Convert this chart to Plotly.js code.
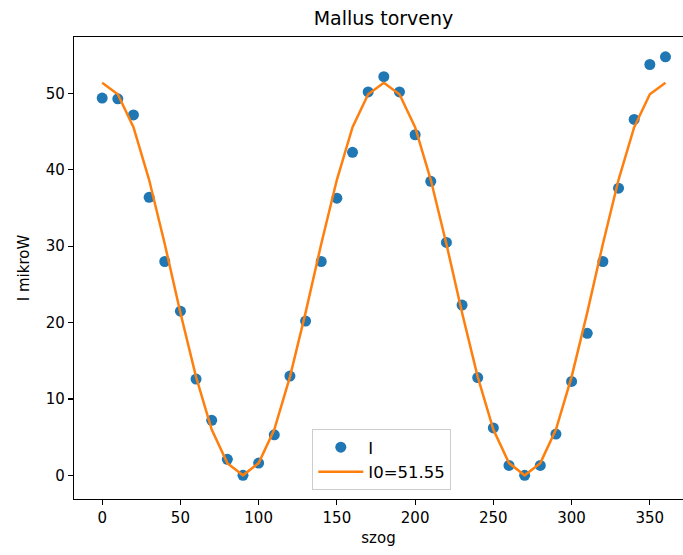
<!DOCTYPE html>
<html>
<head>
<meta charset="utf-8">
<script src="https://cdn.plot.ly/plotly-3.0.1.min.js"></script>
<style>html,body{margin:0;padding:0;background:#fff;}#chart{width:683px;height:555px;}</style>
</head>
<body>
<div id="chart"></div>
<script>
const angles = [0,10,20,30,40,50,60,70,80,90,100,110,120,130,140,150,160,170,180,190,200,210,220,230,240,250,260,270,280,290,300,310,320,330,340,350,360];
const measured = [49.4,49.3,47.2,36.4,28.0,21.5,12.6,7.2,2.1,0.0,1.6,5.3,13.0,20.2,28.0,36.3,42.3,50.2,52.2,50.2,44.6,38.5,30.5,22.3,12.8,6.2,1.3,0.0,1.3,5.4,12.3,18.6,28.0,37.6,46.6,53.8,54.8];
const fitted = [51.4,49.9,45.6,38.7,30.3,21.3,12.9,6.0,1.6,0.0,1.6,6.0,12.9,21.3,30.3,38.7,45.6,49.9,51.4,49.9,45.6,38.7,30.3,21.3,12.9,6.0,1.6,0.0,1.6,6.0,12.9,21.3,30.3,38.7,45.6,49.9,51.4];
const xTicks = [0,50,100,150,200,250,300,350];
const yTicks = [0,10,20,30,40,50];

const font = {family: 'DejaVu Sans, sans-serif', size: 15, color: '#000'};

const traces = [
  {x: angles, y: measured, type: 'scatter', mode: 'markers', name: 'I',
   marker: {color: '#1f77b4', size: 11}},
  {x: angles, y: fitted, type: 'scatter', mode: 'lines', name: 'I0=51.55',
   line: {color: '#ff7f0e', width: 2.5}}
];

const layout = {
  width: 683, height: 555,
  margin: {l: 73.5, r: 0, t: 36.7, b: 56},
  paper_bgcolor: '#fff', plot_bgcolor: '#fff',
  font: font,
  showlegend: true,
  title: {text: 'Mallus torveny', font: {family: 'DejaVu Sans, sans-serif', size: 19, color: '#000'},
          x: 383.5/683, xanchor: 'center', xref: 'container', y: 1 - 18/555, yanchor: 'middle', yref: 'container'},
  xaxis: {range: [-18, 371.2], tickvals: xTicks, ticktext: xTicks.map(String),
          showgrid: false, zeroline: false, showline: true, linecolor: '#000', linewidth: 1.2, mirror: true,
          ticks: 'outside', ticklen: 5, tickwidth: 1.2, tickcolor: '#000',
          tickfont: font,
          title: {text: 'szog', font: font, standoff: 6}},
  yaxis: {range: [-3.1, 57.4], tickvals: yTicks, ticktext: yTicks.map(String),
          showgrid: false, zeroline: false, showline: true, linecolor: '#000', linewidth: 1.2, mirror: false,
          ticks: 'outside', ticklen: 5, tickwidth: 1.2, tickcolor: '#000',
          tickfont: font,
          title: {text: 'I mikroW', font: font, standoff: 12}},
  legend: {x: (312-73.5)/609.5, y: (499-490)/462.3, xanchor: 'left', yanchor: 'bottom',
           bgcolor: 'rgba(255,255,255,0.8)', bordercolor: '#cccccc', borderwidth: 1,
           itemwidth: 45,
           font: {family: 'DejaVu Sans, sans-serif', size: 16.5, color: '#000'}}
};

Plotly.newPlot('chart', traces, layout, {displayModeBar: false, staticPlot: true});
</script>
</body>
</html>
